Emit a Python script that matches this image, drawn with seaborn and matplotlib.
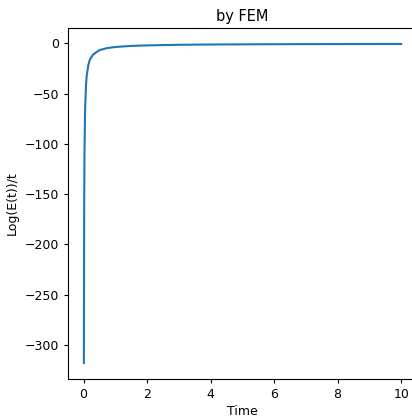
import numpy as np
import pandas as pd
import matplotlib
matplotlib.use("Agg")
import matplotlib.pyplot as plt
import seaborn as sns


# values
time = [0.01, 0.02, 0.03, 0.05, 0.08, 0.1, 0.15, 0.2, 0.3, 0.5, 0.75,
        1.0, 1.5, 2.0, 3.0, 4.0, 5.0, 6.0, 7.0, 8.0, 9.0, 10.0]
log_e_over_t = [-318, -160, -107, -64, -40, -32, -21.5, -16, -11, -6.6, -4.5,
                -3.5, -2.4, -1.9, -1.3, -1.0, -0.85, -0.72, -0.63, -0.56, -0.5, -0.46]

df = pd.DataFrame({"Time": time, "Log(E(t))/t": log_e_over_t})

plt.rcParams["font.size"] = 9

fig = plt.figure(figsize=(4.12, 4.17), dpi=100)
ax = fig.add_axes([68 / 412, 38 / 417, 349 / 412, 351 / 417])
sns.lineplot(data=df, x="Time", y="Log(E(t))/t", ax=ax)
ax.set_title("by FEM", fontsize=10.5, pad=5)
ax.set_xlabel("Time", labelpad=3)
ax.set_ylabel("Log(E(t))/t")
ax.set_xticks([0, 2, 4, 6, 8, 10])
ax.tick_params(length=3)
fig.savefig("out.png", dpi=100)
